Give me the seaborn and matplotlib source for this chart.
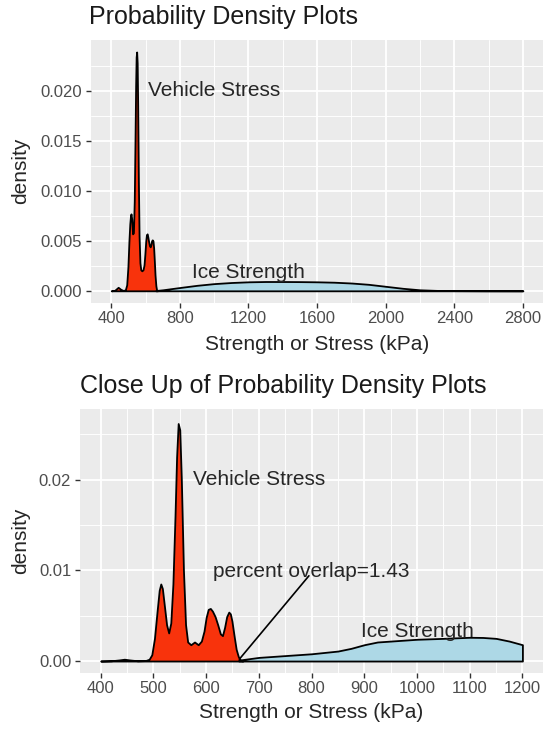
import matplotlib
matplotlib.use('Agg')
import matplotlib.pyplot as plt
import matplotlib.ticker as mticker
import seaborn as sns
import numpy as np
import pandas as pd

# Densidades (kPa, densidade)
# painel de cima: faixa completa
veh_x = [400, 420, 440, 455, 470, 482, 490, 497, 503, 508, 512, 515, 519, 524, 529,
         534, 538, 542, 545, 548, 551, 554, 558, 562, 567, 572, 578, 585, 591, 596,
         601, 605, 609, 613, 618, 623, 627, 631, 635, 639, 643, 647, 651, 655, 660,
         664, 670]
veh_y = [0, 0.00005, 0.00035, 0.00015, 0.00003, 0.0001, 0.0006, 0.0024, 0.0050, 0.0067,
         0.0075, 0.0077, 0.0072, 0.0057, 0.0058, 0.0090, 0.0145, 0.0205, 0.0234, 0.0239,
         0.0228, 0.0185, 0.0110, 0.0055, 0.0028, 0.0021, 0.0020, 0.0021, 0.0026, 0.0037,
         0.0050, 0.0056, 0.0057, 0.0054, 0.0049, 0.0045, 0.0044, 0.0046, 0.0050, 0.0051,
         0.0050, 0.0043, 0.0030, 0.0016, 0.0005, 0.0001, 0]
ice_x = [660, 700, 800, 900, 1000, 1100, 1200, 1300, 1400, 1500, 1600, 1700, 1800, 1900,
         2000, 2100, 2200, 2300, 2400, 2600, 2800]
ice_y = [0.00003, 0.0001, 0.00033, 0.00055, 0.00072, 0.00083, 0.0009, 0.00093, 0.00093,
         0.00092, 0.0009, 0.00086, 0.00078, 0.00065, 0.00045, 0.00025, 0.0001, 0.00004,
         0.00002, 0.000005, 0]

# painel de baixo: close up 400-1200
veh_x_zoom = [400, 420, 435, 445, 455, 470, 485, 492, 497, 502, 507, 511, 514, 517, 521,
              525, 529, 533, 537, 541, 544, 547, 550, 553, 557, 561, 565, 571, 578, 585,
              591, 596, 600, 604, 608, 612, 617, 622, 627, 631, 635, 639, 643, 646, 649,
              653, 657, 661, 665, 670]
veh_y_zoom = [0, 0.00003, 0.00012, 0.0002, 0.00012, 0.00003, 0.00005, 0.0002, 0.0007,
              0.0025, 0.0055, 0.0078, 0.0085, 0.0080, 0.0060, 0.0040, 0.0031, 0.0042,
              0.0085, 0.0160, 0.0225, 0.0262, 0.0255, 0.0200, 0.0100, 0.0040, 0.0021,
              0.0018, 0.0021, 0.0018, 0.0022, 0.0033, 0.0048, 0.0057, 0.0058, 0.0055,
              0.0049, 0.0040, 0.0030, 0.0028, 0.0037, 0.0049, 0.0054, 0.0052, 0.0044,
              0.0028, 0.0013, 0.0005, 0.0001, 0]
ice_x_zoom = [662, 700, 750, 800, 850, 875, 900, 925, 950, 975, 1000, 1050, 1100, 1125,
              1150, 1175, 1200]
ice_y_zoom = [0.0001, 0.0004, 0.0006, 0.0008, 0.0011, 0.0014, 0.0018, 0.0021, 0.0022,
              0.0023, 0.0024, 0.0025, 0.00262, 0.0026, 0.0025, 0.0022, 0.0018]

overlap_pct = 1.43

sns.set_theme(style="darkgrid", rc={
    'axes.facecolor': '#EBEBEB',
    'grid.color': 'white',
    'axes.edgecolor': '#EBEBEB',
    'xtick.color': '#333333',
    'ytick.color': '#333333',
    'xtick.labelcolor': '#4D4D4D',
    'ytick.labelcolor': '#4D4D4D',
})
plt.rcParams['font.family'] = ['Liberation Sans', 'DejaVu Sans']

W, H = 543, 729
fig = plt.figure(figsize=(W / 100, H / 100), dpi=100)
fig.patch.set_facecolor('white')

VEH_COR = '#F8330C'
ICE_COR = '#ADD8E6'


def eixo(left, top, right, bottom):
    return fig.add_axes([left / W, 1 - bottom / H, (right - left) / W, (bottom - top) / H])


def desenhar(ax, vx, vy, ix, iy):
    ax.fill_between(vx, vy, 0, facecolor=VEH_COR, edgecolor='black', linewidth=1.3, zorder=3)
    ax.fill_between(ix, iy, 0, facecolor=ICE_COR, edgecolor='black', linewidth=1.3, zorder=3)
    ax.grid(which='major', color='white', linewidth=1.3)
    ax.grid(which='minor', color='white', linewidth=0.65)
    ax.tick_params(axis='both', which='major', length=3.6, width=1.0, labelsize=12,
                   pad=2.5, bottom=True, left=True)
    ax.tick_params(axis='both', which='minor', length=0)
    for s in ax.spines.values():
        s.set_visible(False)
    ax.set_xlabel('')
    ax.set_ylabel('')


# ---- painel de cima
ax1 = eixo(90.7, 40, 543.5, 302.7)
desenhar(ax1, veh_x, veh_y, ice_x, ice_y)
ax1.set_xlim(280, 2920)
ax1.set_ylim(-0.00119, 0.0251)
ax1.xaxis.set_major_locator(mticker.MultipleLocator(400))
ax1.xaxis.set_minor_locator(mticker.MultipleLocator(200))
ax1.set_yticks([0, 0.005, 0.010, 0.015, 0.020])
ax1.yaxis.set_minor_locator(mticker.FixedLocator([0.0025, 0.0075, 0.0125, 0.0175, 0.0225]))
ax1.yaxis.set_major_formatter(mticker.FormatStrFormatter('%.3f'))
ax1.xaxis.set_major_formatter(mticker.FormatStrFormatter('%d'))
ax1.text(1000, 0.020, 'Vehicle Stress', fontsize=15, ha='center', va='center', zorder=5)
ax1.text(1200, 0.00182, 'Ice Strength', fontsize=15, ha='center', va='center', zorder=5)

# ---- painel de baixo
ax2 = eixo(79.6, 409, 543.5, 673)
desenhar(ax2, veh_x_zoom, veh_y_zoom, ice_x_zoom, ice_y_zoom)
ax2.set_xlim(360, 1240)
ax2.set_ylim(-0.00132, 0.0278)
ax2.xaxis.set_major_locator(mticker.MultipleLocator(100))
ax2.xaxis.set_minor_locator(mticker.MultipleLocator(50))
ax2.set_yticks([0, 0.01, 0.02])
ax2.yaxis.set_minor_locator(mticker.FixedLocator([0.005, 0.015, 0.025]))
ax2.yaxis.set_major_formatter(mticker.FormatStrFormatter('%.2f'))
ax2.xaxis.set_major_formatter(mticker.FormatStrFormatter('%d'))
ax2.text(700, 0.020, 'Vehicle Stress', fontsize=15, ha='center', va='center', zorder=5)
ax2.text(800, 0.0099, f'percent overlap={overlap_pct}', fontsize=15, ha='center',
         va='center', zorder=5)
ax2.text(1000, 0.0033, 'Ice Strength', fontsize=15, ha='center', va='center', zorder=5)
ax2.plot([663, 795], [0.0002, 0.0094], color='black', linewidth=1.2, zorder=4)

# títulos e rótulos
fig.text(89 / W, 1 - 24 / H, 'Probability Density Plots', fontsize=18, color='#1A1A1A',
         ha='left', va='baseline')
fig.text(80 / W, 1 - 393 / H, 'Close Up of Probability Density Plots', fontsize=18,
         color='#1A1A1A', ha='left', va='baseline')
fig.text((90.7 + 543) / 2 / W, 1 - 344 / H, 'Strength or Stress (kPa)', fontsize=15,
         ha='center', va='center')
fig.text((79.6 + 543) / 2 / W, 1 - 713 / H, 'Strength or Stress (kPa)', fontsize=15,
         ha='center', va='center')
fig.text(21 / W, 1 - 171 / H, 'density', fontsize=15, rotation=90, ha='center', va='center')
fig.text(21 / W, 1 - 541 / H, 'density', fontsize=15, rotation=90, ha='center', va='center')

fig.savefig('out.png', dpi=100, facecolor='white')
